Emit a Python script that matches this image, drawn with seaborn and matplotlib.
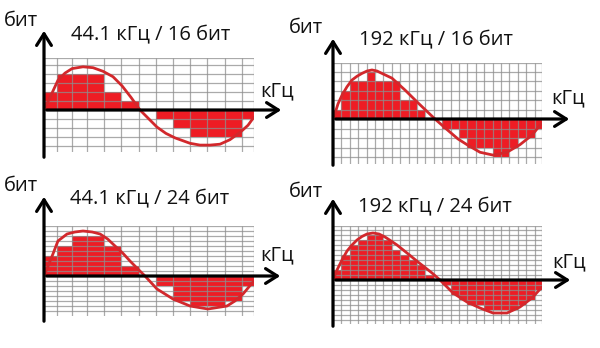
import matplotlib
matplotlib.use("Agg")
import matplotlib.pyplot as plt
import seaborn as sns
import pandas as pd
from matplotlib.patches import FancyArrowPatch

sns.set_theme(style="white")
plt.rcParams['font.family'] = ['Open Sans', 'DejaVu Sans']

# ---------------- data ----------------
titles = ["44.1 кГц / 16 бит", "192 кГц / 16 бит", "44.1 кГц / 24 бит", "192 кГц / 24 бит"]
y_label = "бит"
x_label = "кГц"

# sample cell edges (time, in sample units)
edges_441 = [0, 0.75, 1.6, 2.5, 3.5, 4.5, 5.5, 6.5, 7.5, 8.5, 9.5, 10.5, 11.5, 12.2]
edges_192 = list(range(25)) + [24.9]

# quantised levels per sample cell
levels_441_16 = [2, 4, 4, 4, 2, 1, 0, -1, -2, -3, -3, -3, -1]
levels_192_16 = [1, 3, 4, 4, 5, 4, 4, 4, 2, 2, 1, 0, 0,
                 -1, -1, -2, -3, -3, -3, -4, -4, -3, -2, -2, -1]
levels_441_24 = [4, 6, 8, 8, 6, 2, 0, -2, -5, -6, -6, -5, -2]
levels_192_24 = [2, 5, 7, 8, 9, 9, 8, 6, 5, 4, 3, 1, 0,
                 -1, -3, -4, -5, -5, -6, -6, -6, -6, -5, -4, -2]

# analogue signal (red curve)
curve_441_16_x = [0, 0.35, 0.81, 1.22, 1.63, 2.27, 2.85, 3.43, 4.01, 4.53, 5.06, 5.58,
                  6.05, 6.57, 7.09, 7.62, 8.49, 9.07, 9.65, 10.23, 10.81, 11.45, 11.86, 12.2]
curve_441_16_y = [0, 1.4, 3.3, 4.1, 4.6, 4.8, 4.7, 4.3, 3.7, 2.7, 1.4, 0,
                  -0.9, -1.9, -2.6, -3.1, -3.7, -3.9, -3.9, -3.8, -3.3, -2.4, -1.7, -0.8]
curve_192_16_x = [0, 0.24, 0.6, 1.07, 1.67, 2.26, 2.86, 3.45, 4.05, 4.64, 5.24, 5.83, 7.02,
                  8.57, 10.12, 12.14, 13.69, 14.88, 15.95, 17.5, 19.05, 20.71, 22.26, 23.69, 24.88]
curve_192_16_y = [0, 0.6, 1.6, 2.5, 3.4, 4.1, 4.5, 4.8, 5.05, 5.16, 5.05, 4.8, 4.3,
                  3.05, 1.7, 0, -1.2, -2.1, -2.7, -3.5, -3.8, -3.5, -2.7, -1.7, -0.4]
curve_441_24_x = [0, 0.52, 0.81, 1.34, 1.8, 2.27, 2.8, 3.26, 3.7, 4.13, 4.6, 5.0, 5.4,
                  5.87, 6.57, 7.5, 8.49, 9.53, 10.64, 11.1, 11.57, 12.2]
curve_441_24_y = [0, 4.4, 7.0, 8.4, 8.8, 9.0, 8.8, 8.4, 7.4, 6.0, 4.5, 3.0, 1.6,
                  0, -2.6, -4.6, -6.0, -6.6, -6.0, -5.0, -3.6, -1.0]
curve_192_24_x = [0, 0.48, 1.07, 1.67, 2.26, 2.86, 3.45, 4.05, 4.76, 5.48, 6.19, 7.0, 7.62,
                  8.81, 10.12, 11.79, 12.74, 14.29, 15.95, 17.5, 19.05, 20.71, 22.26, 23.69, 24.88]
curve_192_24_y = [0, 2.0, 4.0, 5.8, 7.0, 8.0, 8.7, 9.2, 9.4, 9.2, 8.6, 7.7, 7.0,
                  5.4, 3.6, 1.4, 0, -2.6, -4.4, -5.6, -6.6, -6.6, -5.4, -3.6, -1.4]

# ---------------- layout (pixels in a 600x348 canvas) ----------------
W, H = 600, 348
panels = [
    dict(edges=edges_441, levels=levels_441_16, cx=curve_441_16_x, cy=curve_441_16_y,
         ox=44, oy=110, xs=17.2, ys=9.0, ymin=-4.7, ymax=5.8, hl=range(-4, 6),
         yax=(160, 28), xtip=284, title=(151, 35), ylab=(21, 21), xlab=(277, 91)),
    dict(edges=edges_192, levels=levels_192_16, cx=curve_192_16_x, cy=curve_192_16_y,
         ox=333, oy=119, xs=8.4, ys=9.5, ymin=-4.7, ymax=5.9, hl=range(-4, 6),
         yax=(168, 36), xtip=572, title=(436, 40), ylab=(306, 28), xlab=(568, 98)),
    dict(edges=edges_441, levels=levels_441_24, cx=curve_441_24_x, cy=curve_441_24_y,
         ox=44, oy=276, xs=17.2, ys=5.0, ymin=-8.0, ymax=10.0, hl=range(-7, 10),
         yax=(324, 194), xtip=283, title=(150, 199), ylab=(21, 186), xlab=(277, 255)),
    dict(edges=edges_192, levels=levels_192_24, cx=curve_192_24_x, cy=curve_192_24_y,
         ox=333, oy=280, xs=8.4, ys=5.0, ymin=-8.8, ymax=10.8, hl=range(-8, 11),
         yax=(329, 196), xtip=573, title=(435, 207), ylab=(306, 192), xlab=(569, 262)),
]

BAR = "#ee1c24"
CURVE = "#d2282c"
GRID = "#8e8e8e"
FS = 14.5

fig = plt.figure(figsize=(W / 100, H / 100), dpi=100)
fig.patch.set_facecolor("white")


def F(x, y):
    return (x / W, 1 - y / H)


for i, p in enumerate(panels):
    edges = p["edges"]
    xmax = edges[-1]
    left = p["ox"]
    top = p["oy"] - p["ymax"] * p["ys"]
    width = xmax * p["xs"]
    height = (p["ymax"] - p["ymin"]) * p["ys"]
    ax = fig.add_axes([left / W, 1 - (top + height) / H, width / W, height / H])
    ax.set_xlim(0, xmax)
    ax.set_ylim(p["ymin"], p["ymax"])
    ax.set_axis_off()

    # quantised samples
    ax.stairs(p["levels"], edges, baseline=0, fill=True, color=BAR, lw=0, zorder=1)
    # grid
    ax.vlines(edges, p["ymin"], p["ymax"], color=GRID, lw=0.9, alpha=0.75, zorder=2)
    ax.hlines(list(p["hl"]) + [p["ymax"]], 0, xmax, color=GRID, lw=0.9, alpha=0.75, zorder=2)
    # analogue signal
    df = pd.DataFrame({"t": p["cx"], "v": p["cy"]})
    sns.lineplot(data=df, x="t", y="v", ax=ax, color=CURVE, lw=2.0, sort=False,
                 zorder=3, estimator=None)
    ax.set_axis_off()

    # axes with arrows
    yb, yt = p["yax"]
    fig.add_artist(FancyArrowPatch(F(p["ox"], yb), F(p["ox"], yt), transform=fig.transFigure,
                                   arrowstyle="->,head_length=0.6,head_width=0.38",
                                   mutation_scale=14, lw=2.3, color="black", zorder=5))
    fig.add_artist(FancyArrowPatch(F(p["ox"], p["oy"]), F(p["xtip"], p["oy"]),
                                   transform=fig.transFigure,
                                   arrowstyle="->,head_length=0.6,head_width=0.38",
                                   mutation_scale=14, lw=2.3, color="black", zorder=5))

    fig.text(*F(*p["title"]), titles[i], ha="center", va="center", fontsize=FS, color="#111111")
    fig.text(*F(*p["ylab"]), y_label, ha="center", va="center", fontsize=FS, color="#111111")
    fig.text(*F(*p["xlab"]), x_label, ha="center", va="center", fontsize=FS, color="#111111")

fig.savefig("out.png", dpi=100, facecolor="white")
